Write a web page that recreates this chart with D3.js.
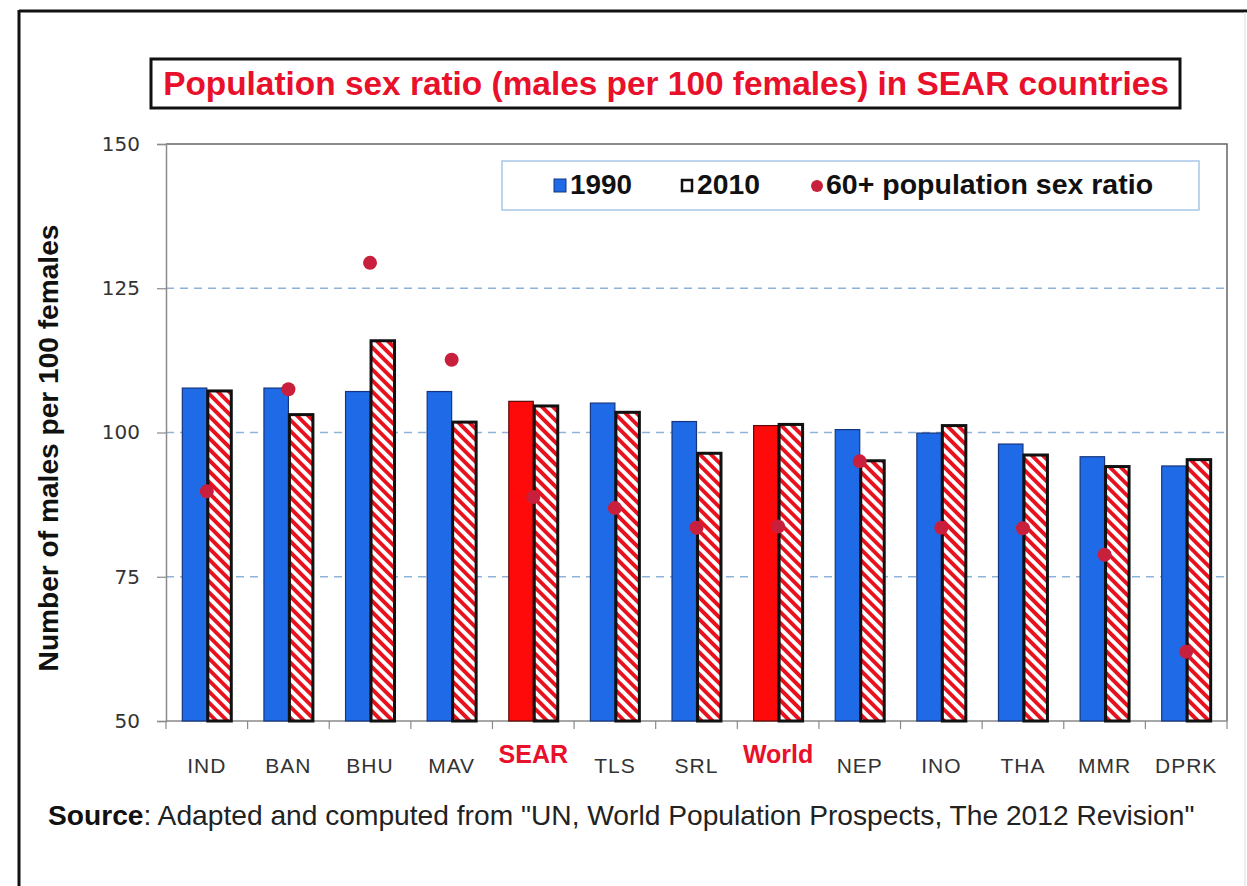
<!DOCTYPE html>
<html>
<head>
<meta charset="utf-8">
<script src="https://cdn.jsdelivr.net/npm/d3@7"></script>
<style>
  html, body { margin: 0; padding: 0; background: #fff; }
  svg { display: block; }
</style>
</head>
<body>
<svg id="chart" width="1247" height="886"></svg>
<script>
// ---- data ----
const categories = ["IND","BAN","BHU","MAV","SEAR","TLS","SRL","World","NEP","INO","THA","MMR","DPRK"];
const highlighted = ["SEAR","World"];
const values1990 = [107.7,107.7,107.1,107.1,105.4,105.1,101.9,101.2,100.5,99.9,98.0,95.8,94.2];
const values2010 = [107.2,103.1,115.9,101.8,104.6,103.5,96.4,101.4,95.1,101.2,96.1,94.1,95.3];
const values60plus = [89.8,107.5,129.4,112.6,88.8,86.9,83.5,83.7,95.0,83.5,83.4,78.8,62.0];
const yTicks = [50,75,100,125,150];
const gridValues = [75,100,125];
const seriesKeys = ["1990","2010"];
const titleText = "Population sex ratio (males per 100 females) in SEAR countries";
const yTitle = "Number of males per 100 females";
const legendLabels = ["1990","2010","60+ population sex ratio"];
const sourceBold = "Source";
const sourceRest = ":  Adapted and computed from \"UN, World Population Prospects, The 2012 Revision\"";

// ---- layout ----
const svg = d3.select("#chart");
const L = 166, R = 1227, T = 144, B = 721;
const blue = "#1f6ae6", red = "#ff0a0a", dotColor = "#c8203c";

function fitText(sel, targetWidth) {
  const node = sel.node();
  const fs = parseFloat(sel.attr("font-size"));
  const w = node.getComputedTextLength();
  if (w > 0) sel.attr("font-size", (fs * targetWidth / w).toFixed(2));
  return sel;
}

// pattern
const defs = svg.append("defs");
const pat = defs.append("pattern")
  .attr("id", "hatch").attr("patternUnits", "userSpaceOnUse")
  .attr("width", 7.8).attr("height", 7.8)
  .attr("patternTransform", "rotate(-45)");
pat.append("rect").attr("width", 7.8).attr("height", 7.8).attr("fill", "#fff");
pat.append("rect").attr("width", 3.9).attr("height", 7.8).attr("fill", "#e8121e");

// outer frame
svg.append("line").attr("x1", 19).attr("x2", 1247).attr("y1", 11).attr("y2", 11)
  .attr("stroke", "#111").attr("stroke-width", 3);
svg.append("line").attr("x1", 19).attr("x2", 19).attr("y1", 10).attr("y2", 886)
  .attr("stroke", "#111").attr("stroke-width", 3);
svg.append("line").attr("x1", 1245).attr("x2", 1245).attr("y1", 12).attr("y2", 886)
  .attr("stroke", "#ddd").attr("stroke-width", 1);

const lf = "Liberation Sans, Arial, sans-serif";

// title
svg.append("rect").attr("x", 151).attr("y", 59).attr("width", 1029).attr("height", 49)
  .attr("fill", "#fff").attr("stroke", "#111").attr("stroke-width", 3);
const tt = svg.append("text").attr("x", 666).attr("y", 95)
  .attr("text-anchor", "middle").attr("font-family", lf)
  .attr("font-weight", "bold").attr("font-size", 27).attr("fill", "#e8102a")
  .text(titleText);
fitText(tt, 1006);

// scales
const x = d3.scaleBand().domain(categories).range([L, R]).paddingInner(0.4).paddingOuter(0.2);
const x1 = d3.scaleBand().domain(seriesKeys).range([0, x.bandwidth()]);
const y = d3.scaleLinear().domain([50, 150]).range([B, T]);
const step = x.step();

// gridlines
svg.append("g").selectAll("line").data(gridValues).join("line")
  .attr("x1", L).attr("x2", R).attr("y1", d => y(d)).attr("y2", d => y(d))
  .attr("stroke", "#8db3da").attr("stroke-width", 1.5).attr("stroke-dasharray", "8,6");

// plot border (top, right)
svg.append("path")
  .attr("d", `M${L},${T}H${R}V${B}`)
  .attr("fill", "none").attr("stroke", "#666").attr("stroke-width", 1.5);

// y axis
const yAxis = svg.append("g").attr("transform", `translate(${L},0)`)
  .call(d3.axisLeft(y).tickValues(yTicks).tickSize(9).tickPadding(17));
yAxis.select(".domain").attr("stroke", "#8a8a8a").attr("stroke-width", 1.5);
yAxis.selectAll(".tick line").attr("stroke", "#8a8a8a").attr("stroke-width", 1.2);
yAxis.selectAll(".tick text").attr("font-family", "DejaVu Sans, sans-serif")
  .attr("font-size", 20).attr("fill", "#333");

// x axis (boundary ticks)
const boundaries = d3.range(categories.length + 1).map(i => L + i * step);
svg.append("line").attr("x1", L).attr("x2", R).attr("y1", B).attr("y2", B)
  .attr("stroke", "#8a8a8a").attr("stroke-width", 1.5);
svg.append("g").selectAll("line").data(boundaries).join("line")
  .attr("x1", d => d).attr("x2", d => d).attr("y1", B).attr("y2", B + 8)
  .attr("stroke", "#8a8a8a").attr("stroke-width", 1.2);

// x labels
svg.append("g").selectAll("text").data(categories).join("text")
  .attr("x", d => x(d) + x.bandwidth() / 2)
  .attr("y", d => highlighted.includes(d) ? 763 : 773)
  .attr("text-anchor", "middle")
  .attr("font-family", lf)
  .attr("font-weight", d => highlighted.includes(d) ? "bold" : "normal")
  .attr("font-size", d => highlighted.includes(d) ? 25 : 21)
  .attr("letter-spacing", d => highlighted.includes(d) ? 0 : 1)
  .attr("fill", d => highlighted.includes(d) ? "#e8102a" : "#333")
  .text(d => d);

// bars
const rows = categories.map((c, i) => ({ c, v1990: values1990[i], v2010: values2010[i], v60: values60plus[i] }));
const g = svg.append("g");
g.selectAll("rect.b1990").data(rows).join("rect").attr("class", "b1990")
  .attr("x", d => x(d.c) + x1("1990"))
  .attr("y", d => y(d.v1990))
  .attr("width", x1.bandwidth())
  .attr("height", d => B - y(d.v1990))
  .attr("fill", d => highlighted.includes(d.c) ? red : blue)
  .attr("stroke", d => highlighted.includes(d.c) ? "#5a0a0a" : "#16357e")
  .attr("stroke-width", 1.2);
g.selectAll("rect.b2010").data(rows).join("rect").attr("class", "b2010")
  .attr("x", d => x(d.c) + x1("2010") + 1)
  .attr("y", d => y(d.v2010))
  .attr("width", x1.bandwidth() - 1)
  .attr("height", d => B - y(d.v2010))
  .attr("fill", "url(#hatch)")
  .attr("stroke", "#111").attr("stroke-width", 3);

// dots
g.selectAll("circle").data(rows).join("circle")
  .attr("cx", d => x(d.c) + x.bandwidth() / 2)
  .attr("cy", d => y(d.v60))
  .attr("r", 7)
  .attr("fill", dotColor);

// legend
svg.append("rect").attr("x", 502).attr("y", 161).attr("width", 697).attr("height", 49)
  .attr("fill", "#fff").attr("stroke", "#a6c6e6").attr("stroke-width", 1.5);
svg.append("rect").attr("x", 554).attr("y", 179).attr("width", 12).attr("height", 13)
  .attr("fill", blue).attr("stroke", "#16357e").attr("stroke-width", 1);
const l1 = svg.append("text").attr("x", 570).attr("y", 194).attr("font-family", lf).attr("font-weight", "bold")
  .attr("font-size", 22).attr("fill", "#111").text(legendLabels[0]);
fitText(l1, 62);
svg.append("rect").attr("x", 682).attr("y", 180).attr("width", 10).attr("height", 11)
  .attr("fill", "#fff").attr("stroke", "#111").attr("stroke-width", 2.5);
const l2 = svg.append("text").attr("x", 697).attr("y", 194).attr("font-family", lf).attr("font-weight", "bold")
  .attr("font-size", 22).attr("fill", "#111").text(legendLabels[1]);
fitText(l2, 63);
svg.append("circle").attr("cx", 817).attr("cy", 186).attr("r", 6).attr("fill", dotColor);
const l3 = svg.append("text").attr("x", 826).attr("y", 194).attr("font-family", lf).attr("font-weight", "bold")
  .attr("font-size", 22).attr("fill", "#111").text(legendLabels[2]);
fitText(l3, 327);

// y title
const yt = svg.append("text").attr("transform", "translate(58,448) rotate(-90)")
  .attr("text-anchor", "middle").attr("font-family", lf).attr("font-weight", "bold")
  .attr("font-size", 21).attr("fill", "#111").text(yTitle);
fitText(yt, 447);

// source
const src = svg.append("text").attr("x", 48).attr("y", 825).attr("font-family", lf)
  .attr("font-size", 21).attr("fill", "#222");
src.append("tspan").attr("font-weight", "bold").attr("fill", "#111").text(sourceBold);
src.append("tspan").text(sourceRest);
fitText(src, 1147);
</script>
</body>
</html>
